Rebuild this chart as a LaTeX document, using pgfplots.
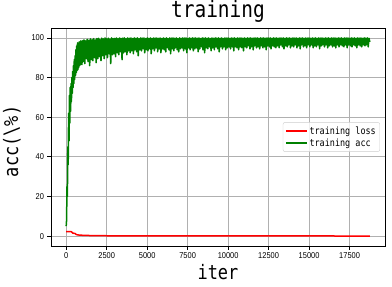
\documentclass[border=0pt]{standalone}
\usepackage{fontspec}
\setmainfont{DejaVu Sans Mono}[FakeStretch=0.85]
\newfontfamily\tickfont{Liberation Sans}[FakeStretch=0.88]
\usepackage{pgfplots}
\pgfplotsset{compat=1.18}
\definecolor{mplgreen}{RGB}{0,128,0}
\definecolor{mplred}{RGB}{255,0,0}
\begin{document}
\begin{tikzpicture}
\path[use as bounding box] (0,0) rectangle (392bp,287bp);
\begin{axis}[
  at={(51bp,41bp)}, anchor=south west,
  width=334bp, height=218bp, scale only axis,
  xmin=-937.5, xmax=19687.5, ymin=-5, ymax=105,
  xtick={0,2500,5000,7500,10000,12500,15000,17500},
  ytick={0,20,40,60,80,100},
  scaled x ticks=false,
  /pgf/number format/assume math mode=true,
  /pgf/number format/1000 sep={},
  xticklabel style={font=\tickfont\fontsize{8.5}{10}\selectfont},
  yticklabel style={font=\tickfont\fontsize{8.5}{10}\selectfont},
  grid=major,
  grid style={color=black!31, line width=0.8bp},
  axis line style={line width=0.8bp},
  major tick style={line width=0.8bp, black},
  tick align=outside, tick pos=left, major tick length=3.5bp,
  title={training},
  title style={at={(axis description cs:0.5,1)}, anchor=base, yshift=5bp, font=\fontsize{23}{26}\selectfont, inner sep=0pt},
  xlabel={iter},
  xlabel style={at={(axis description cs:0.5,0)}, anchor=base, yshift=-33bp, font=\fontsize{20}{22}\selectfont, inner sep=0pt},
  ylabel={acc(\textbackslash\%)},
  ylabel style={at={(axis description cs:-0.0988,0.48)}, anchor=base, rotate=0, font=\fontsize{20}{22}\selectfont, inner sep=0pt},
  legend style={at={(axis description cs:0.985,0.5)}, anchor=east,
    draw=black!20, rounded corners=2bp, fill=white, fill opacity=0.8, text opacity=1,
    font=\fontsize{10}{12}\selectfont, row sep=-1bp, inner xsep=2bp, inner ysep=2bp},
  legend cell align=left,
  legend image code/.code={\draw[#1] (0bp,0bp) -- (21bp,0bp);},
]
\addplot[mplred, line width=1.5bp, line join=round] table[row sep=\\] {
x y\\
0 2.3\\ 100 2.3\\ 200 2.3\\ 300 2.25\\ 350 2.0\\ 400 1.5\\ 500 1.4\\ 550 1.3\\ 600 0.9\\ 700 0.6\\ 900 0.45\\ 1200 0.35\\ 1500 0.28\\ 2000 0.22\\ 2500 0.17\\ 3500 0.13\\ 5000 0.1\\ 7500 0.08\\ 10000 0.06\\ 12500 0.05\\ 15000 0.05\\ 18750 0.04\\
};
\addlegendentry{training loss}
\addplot[mplgreen, line width=1.5bp, line join=round] table[row sep=\\] {
x y\\
0 5\\ 25 8\\ 50 25\\ 75 20\\ 100 45\\ 125 36\\ 150 62\\ 175 48\\ 200 71\\ 225 57\\ 250 75\\ 275 63\\ 300 77\\ 325 68\\ 350 80\\ 375 72\\ 400 83\\ 425 75\\ 450 86\\ 475 77\\ 500 89\\ 525 79\\ 550 91\\ 575 81\\ 600 94\\ 625 82.5\\ 650 96\\ 675 83.5\\ 700 97.5\\ 725 84\\ 750 97\\ 775 85\\ 800 98\\ 825 86\\ 850 97.5\\ 875 86.5\\ 900 98.5\\ 925 87\\ 950 98.2\\ 975 86.5\\
1000 98.6\\ 1050 88.0\\ 1100 99.0\\ 1150 87.0\\ 1200 98.5\\ 1250 89.5\\ 1300 99.3\\ 1350 88.0\\ 1400 98.8\\ 1450 86.0\\ 1500 99.5\\ 1550 89.0\\ 1600 99.1\\ 1650 88.5\\ 1700 99.6\\ 1750 90.0\\ 1800 99.0\\ 1850 87.5\\ 1900 99.7\\ 1950 89.5\\
2000 99.8\\ 2050 90.5\\ 2100 99.2\\ 2150 88.5\\ 2200 99.9\\ 2250 91.0\\ 2300 99.5\\ 2350 89.5\\ 2400 100\\ 2450 91.5\\ 2500 99.6\\ 2550 90.0\\ 2600 99.9\\ 2650 92.0\\ 2700 99.4\\ 2750 87.0\\ 2800 100\\ 2850 91.5\\ 2900 99.7\\ 2950 92.0\\
3000 99.8\\ 3050 90.5\\ 3100 100\\ 3150 92.5\\ 3200 99.6\\ 3250 91.5\\ 3300 100\\ 3350 93.0\\ 3400 99.7\\ 3450 89.0\\ 3500 99.9\\ 3550 92.5\\ 3600 100\\ 3650 93.0\\ 3700 99.6\\ 3750 91.5\\ 3800 100\\ 3850 93.5\\ 3900 99.8\\ 3950 92.5\\
4000 100\\ 4050 93.5\\ 4100 99.7\\ 4150 92.0\\ 4200 100\\ 4250 94.0\\ 4300 99.8\\ 4350 93.0\\ 4400 100\\ 4450 91.0\\ 4500 99.6\\ 4550 94.0\\ 4600 100\\ 4650 93.5\\ 4700 99.9\\ 4750 94.5\\ 4800 100\\ 4850 92.5\\ 4900 99.7\\ 4950 94.0\\
5000 100\\ 5050 93.5\\ 5100 99.8\\ 5150 94.5\\ 5200 100\\ 5250 92.0\\ 5300 99.7\\ 5350 94.5\\ 5400 100\\ 5450 93.5\\ 5500 99.9\\ 5550 95.0\\ 5600 100\\ 5650 93.0\\ 5700 99.8\\ 5750 94.5\\ 5800 100\\ 5850 92.5\\ 5900 99.7\\ 5950 94.5\\
6000 100\\ 6050 94.0\\ 6100 99.8\\ 6150 93.0\\ 6200 100\\ 6250 95.0\\ 6300 99.7\\ 6350 94.0\\ 6400 100\\ 6450 92.0\\ 6500 99.9\\ 6550 94.5\\ 6600 100\\ 6650 93.5\\ 6700 99.8\\ 6750 95.0\\ 6800 100\\ 6850 94.0\\ 6900 99.7\\ 6950 93.0\\
7000 100\\ 7050 94.5\\ 7100 99.8\\ 7150 95.0\\ 7200 100\\ 7250 93.5\\ 7300 99.9\\ 7350 94.5\\ 7400 100\\ 7450 92.5\\ 7500 99.7\\ 7550 95.0\\ 7600 100\\ 7650 94.0\\ 7700 99.8\\ 7750 95.0\\ 7800 100\\ 7850 93.5\\ 7900 99.9\\ 7950 94.5\\
8000 100\\ 8050 95.0\\ 8100 99.8\\ 8150 93.0\\ 8200 100\\ 8250 94.5\\ 8300 99.7\\ 8350 95.5\\ 8400 100\\ 8450 94.0\\ 8500 99.9\\ 8550 92.5\\ 8600 100\\ 8650 95.0\\ 8700 99.8\\ 8750 94.5\\ 8800 100\\ 8850 95.5\\ 8900 99.7\\ 8950 93.5\\
9000 100\\ 9050 95.0\\ 9100 99.8\\ 9150 94.0\\ 9200 100\\ 9250 95.5\\ 9300 99.9\\ 9350 94.5\\ 9400 100\\ 9450 93.0\\ 9500 99.8\\ 9550 95.5\\ 9600 100\\ 9650 94.5\\ 9700 99.7\\ 9750 95.5\\ 9800 100\\ 9850 94.0\\ 9900 99.9\\ 9950 95.0\\
10000 100\\ 10050 95.5\\ 10100 99.8\\ 10150 94.5\\ 10200 100\\ 10250 95.5\\ 10300 99.9\\ 10350 93.5\\ 10400 100\\ 10450 95.5\\ 10500 99.8\\ 10550 95.0\\ 10600 100\\ 10650 94.0\\ 10700 99.9\\ 10750 95.5\\ 10800 100\\ 10850 95.0\\ 10900 99.8\\ 10950 93.5\\
11000 100\\ 11050 95.5\\ 11100 99.8\\ 11150 95.0\\ 11200 100\\ 11250 96.0\\ 11300 99.9\\ 11350 94.5\\ 11400 100\\ 11450 95.5\\ 11500 99.8\\ 11550 94.0\\ 11600 100\\ 11650 96.0\\ 11700 99.9\\ 11750 95.0\\ 11800 100\\ 11850 95.5\\ 11900 99.8\\ 11950 94.5\\
12000 100\\ 12050 96.0\\ 12100 99.9\\ 12150 95.0\\ 12200 100\\ 12250 95.5\\ 12300 99.8\\ 12350 94.0\\ 12400 100\\ 12450 96.0\\ 12500 99.9\\ 12550 95.5\\ 12600 100\\ 12650 94.5\\ 12700 99.8\\ 12750 96.0\\ 12800 100\\ 12850 95.5\\ 12900 99.9\\ 12950 95.0\\
13000 100\\ 13050 96.0\\ 13100 99.8\\ 13150 95.0\\ 13200 100\\ 13250 96.5\\ 13300 99.9\\ 13350 95.5\\ 13400 100\\ 13450 94.5\\ 13500 99.8\\ 13550 96.0\\ 13600 100\\ 13650 95.5\\ 13700 99.9\\ 13750 96.5\\ 13800 100\\ 13850 95.0\\ 13900 99.8\\ 13950 96.0\\
14000 100\\ 14050 95.5\\ 14100 99.9\\ 14150 96.5\\ 14200 100\\ 14250 95.0\\ 14300 99.8\\ 14350 96.0\\ 14400 100\\ 14450 94.5\\ 14500 99.9\\ 14550 96.5\\ 14600 100\\ 14650 95.5\\ 14700 99.8\\ 14750 96.0\\ 14800 100\\ 14850 95.0\\ 14900 99.9\\ 14950 96.5\\
15000 100\\ 15050 95.5\\ 15100 99.8\\ 15150 96.5\\ 15200 100\\ 15250 95.0\\ 15300 99.9\\ 15350 96.0\\ 15400 100\\ 15450 95.5\\ 15500 99.8\\ 15550 96.5\\ 15600 100\\ 15650 94.5\\ 15700 99.9\\ 15750 96.0\\ 15800 100\\ 15850 96.5\\ 15900 99.8\\ 15950 95.5\\
16000 100\\ 16050 96.5\\ 16100 99.9\\ 16150 95.0\\ 16200 100\\ 16250 96.0\\ 16300 99.8\\ 16350 96.5\\ 16400 100\\ 16450 95.5\\ 16500 99.9\\ 16550 96.0\\ 16600 100\\ 16650 95.0\\ 16700 99.8\\ 16750 96.5\\ 16800 100\\ 16850 95.5\\ 16900 99.9\\ 16950 96.5\\
17000 100\\ 17050 96.0\\ 17100 99.8\\ 17150 95.5\\ 17200 100\\ 17250 96.5\\ 17300 99.9\\ 17350 95.0\\ 17400 100\\ 17450 96.5\\ 17500 99.8\\ 17550 96.0\\ 17600 100\\ 17650 95.5\\ 17700 99.9\\ 17750 96.5\\ 17800 100\\ 17850 96.0\\ 17900 99.8\\ 17950 95.0\\
18000 100\\ 18050 96.5\\ 18100 99.9\\ 18150 96.0\\ 18200 100\\ 18250 95.5\\ 18300 99.8\\ 18350 96.5\\ 18400 100\\ 18450 96.0\\ 18500 99.9\\ 18550 96.5\\ 18600 100\\ 18650 95.5\\ 18700 99.8\\ 18750 98.0\\
};
\addlegendentry{training acc}
\end{axis}
\end{tikzpicture}
\end{document}
